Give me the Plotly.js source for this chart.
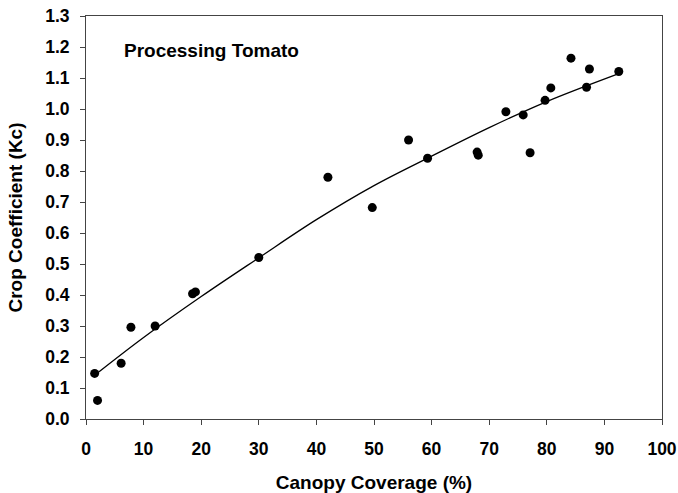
<!DOCTYPE html>
<html>
<head>
<meta charset="utf-8">
<script src="https://cdn.plot.ly/plotly-3.0.1.min.js"></script>
<style>html,body{margin:0;padding:0;background:#fff;}#chart{width:678px;height:493px;}</style>
</head>
<body>
<div id="chart"></div>
<script>
// Observed data: canopy coverage (%) vs crop coefficient (Kc)
const canopyCoverage = [1.5, 2.0, 6.1, 7.8, 12.0, 18.5, 19.0, 30.0, 42.0, 49.7, 56.0, 59.3, 67.9, 68.1, 72.9, 75.9, 77.1, 79.7, 80.7, 84.2, 86.9, 87.4, 92.5];
const cropCoefficient = [0.147, 0.060, 0.180, 0.296, 0.300, 0.404, 0.410, 0.521, 0.780, 0.682, 0.900, 0.841, 0.861, 0.851, 0.991, 0.981, 0.859, 1.028, 1.068, 1.164, 1.070, 1.129, 1.121];

// Trend curve at these coverages
const trendX = [2.1, 10, 20, 30, 40, 50, 60, 70, 80, 92.5];
const trendY = [0.150, 0.263, 0.395, 0.520, 0.643, 0.753, 0.848, 0.940, 1.024, 1.114];

const xTicks = [0, 10, 20, 30, 40, 50, 60, 70, 80, 90, 100];
const yTicks = [0.0, 0.1, 0.2, 0.3, 0.4, 0.5, 0.6, 0.7, 0.8, 0.9, 1.0, 1.1, 1.2, 1.3];

const FONT = 'Liberation Sans, Arial, Helvetica, sans-serif';

const traces = [
  {
    x: trendX, y: trendY, type: 'scatter', mode: 'lines',
    line: {color: '#000', width: 1.3, shape: 'spline', smoothing: 1},
    hoverinfo: 'skip', showlegend: false
  },
  {
    x: canopyCoverage, y: cropCoefficient, type: 'scatter', mode: 'markers',
    marker: {color: '#000', size: 9}, showlegend: false
  }
];

const axisCommon = {
  showgrid: false, zeroline: false, showline: true, mirror: true,
  linecolor: '#444', linewidth: 1,
  ticks: 'outside', ticklen: 5, tickwidth: 1, tickcolor: '#444',
  tickfont: {family: FONT, size: 17.5, color: '#000', weight: 'bold'}
};

const layout = {
  width: 678, height: 493,
  margin: {l: 86, r: 16, t: 16, b: 74},
  paper_bgcolor: '#fff', plot_bgcolor: '#fff',
  xaxis: Object.assign({}, axisCommon, {
    range: [0, 100], tickvals: xTicks, ticktext: xTicks.map(v => String(v)),
    ticklabelstandoff: 9,
    title: {text: 'Canopy Coverage (%)', font: {family: FONT, size: 19, color: '#000', weight: 'bold'}, standoff: 22}
  }),
  yaxis: Object.assign({}, axisCommon, {
    range: [0, 1.3], tickvals: yTicks, ticktext: yTicks.map(v => v.toFixed(1)),
    ticklabelstandoff: 7,
    title: {text: 'Crop Coefficient (Kc)', font: {family: FONT, size: 19, color: '#000', weight: 'bold'}, standoff: 17}
  }),
  annotations: [{
    text: 'Processing Tomato', xref: 'paper', yref: 'paper', x: 0.062, y: 0.915,
    xanchor: 'left', yanchor: 'middle', showarrow: false,
    font: {family: FONT, size: 19, color: '#000', weight: 'bold'}
  }]
};

Plotly.newPlot('chart', traces, layout, {displayModeBar: false, staticPlot: true});
</script>
</body>
</html>
